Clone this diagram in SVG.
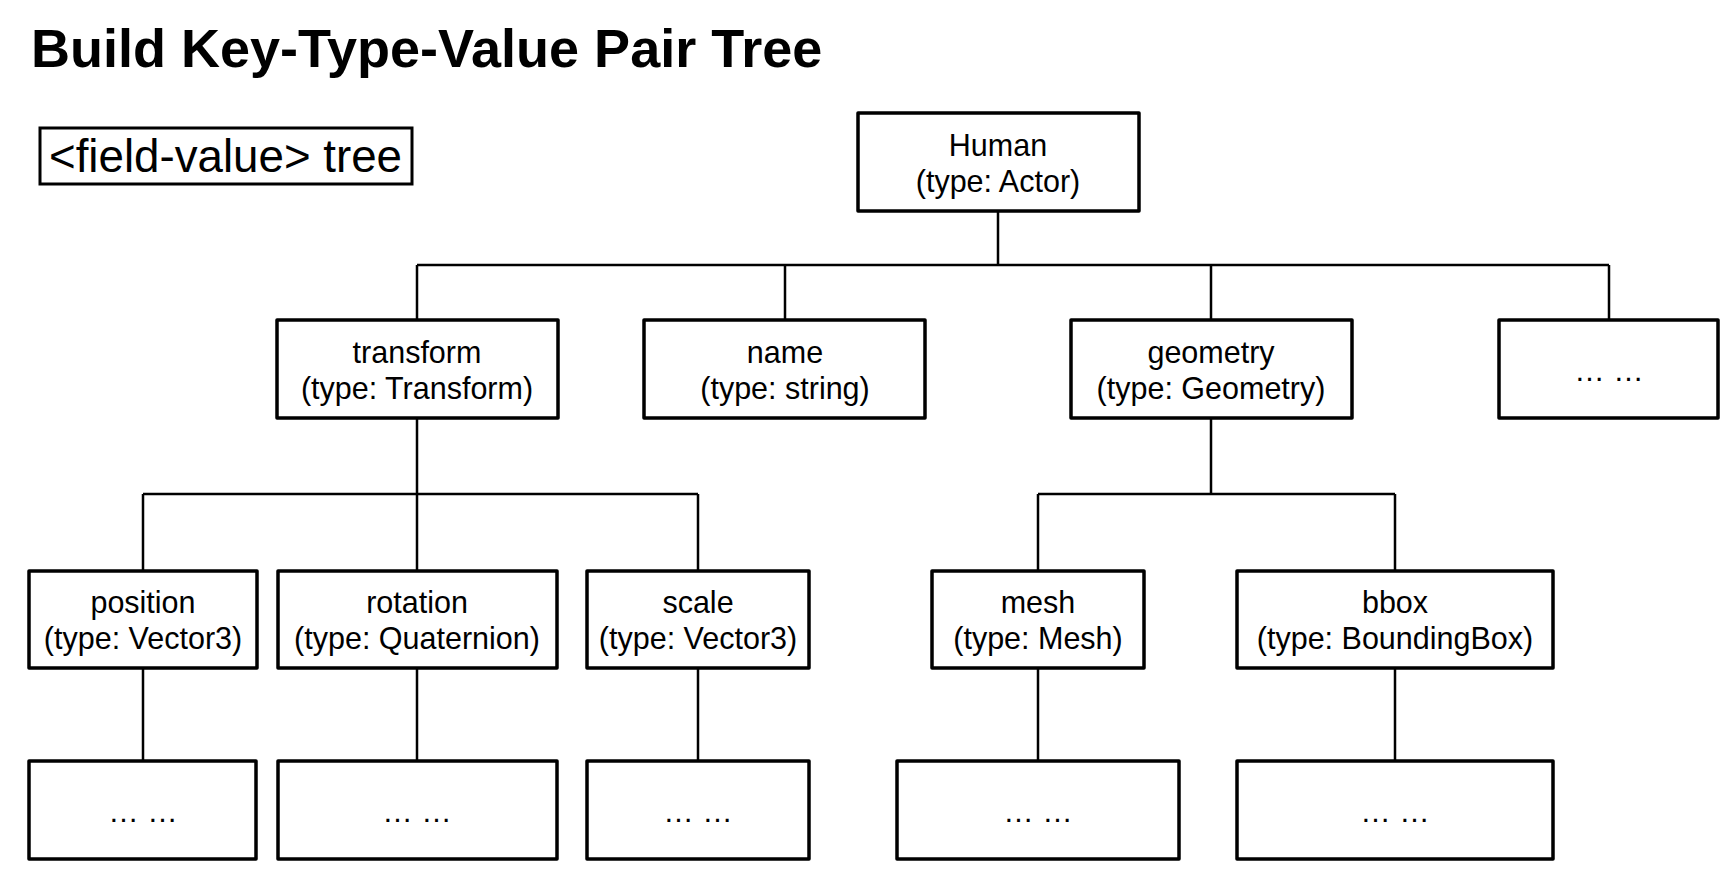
<svg xmlns="http://www.w3.org/2000/svg" width="1731" height="880" viewBox="0 0 1731 880">
<style>
.box{fill:#fff;stroke:#000;stroke-width:3.5;stroke-linejoin:round}
.lbl{font-family:"Liberation Sans",Arial,sans-serif;font-size:30.5px;fill:#000;text-anchor:middle}
.con{fill:none;stroke:#000;stroke-width:2.5}
</style>
<rect width="1731" height="880" fill="#fff"/>
<text x="31" y="67" font-family="'Liberation Sans',Arial,sans-serif" font-weight="bold" font-size="54" fill="#000">Build Key-Type-Value Pair Tree</text>
<g id="legend">
<rect x="40" y="128" width="372" height="56" fill="#fff" stroke="#000" stroke-width="3"/>
<text x="49" y="172" font-family="'Liberation Sans',Arial,sans-serif" font-size="46" fill="#000" textLength="353" lengthAdjust="spacingAndGlyphs">&lt;field-value&gt; tree</text>
</g>
<g id="connectors">
<path class="con" d="M998 211V265M417 265H1609M417 265V320M785 265V320M1211 265V320M1609 265V320"/>
<path class="con" d="M417 418V494M143 494H698M143 494V571M417 494V571M698 494V571"/>
<path class="con" d="M1211 418V494M1038 494H1395M1038 494V571M1395 494V571"/>
<path class="con" d="M143 668V761M417 668V761M698 668V761M1038 668V761M1395 668V761"/>
</g>
<g id="human"><rect class="box" x="858" y="113" width="281" height="98"/><text class="lbl" x="998" y="156">Human</text><text class="lbl" x="998" y="192">(type: Actor)</text></g>
<g id="transform"><rect class="box" x="277" y="320" width="281" height="98"/><text class="lbl" x="417" y="363">transform</text><text class="lbl" x="417" y="399">(type: Transform)</text></g>
<g id="name"><rect class="box" x="644" y="320" width="281" height="98"/><text class="lbl" x="785" y="363">name</text><text class="lbl" x="785" y="399">(type: string)</text></g>
<g id="geometry"><rect class="box" x="1071" y="320" width="281" height="98"/><text class="lbl" x="1211" y="363">geometry</text><text class="lbl" x="1211" y="399">(type: Geometry)</text></g>
<g id="more1"><rect class="box" x="1499" y="320" width="219" height="98"/><text class="lbl" x="1609" y="381">… …</text></g>
<g id="position"><rect class="box" x="29" y="571" width="228" height="97"/><text class="lbl" x="143" y="613">position</text><text class="lbl" x="143" y="649">(type: Vector3)</text></g>
<g id="rotation"><rect class="box" x="278" y="571" width="279" height="97"/><text class="lbl" x="417" y="613">rotation</text><text class="lbl" x="417" y="649">(type: Quaternion)</text></g>
<g id="scale"><rect class="box" x="587" y="571" width="222" height="97"/><text class="lbl" x="698" y="613">scale</text><text class="lbl" x="698" y="649">(type: Vector3)</text></g>
<g id="mesh"><rect class="box" x="932" y="571" width="212" height="97"/><text class="lbl" x="1038" y="613">mesh</text><text class="lbl" x="1038" y="649">(type: Mesh)</text></g>
<g id="bbox"><rect class="box" x="1237" y="571" width="316" height="97"/><text class="lbl" x="1395" y="613">bbox</text><text class="lbl" x="1395" y="649">(type: BoundingBox)</text></g>
<g id="pos-more"><rect class="box" x="29" y="761" width="227" height="98"/><text class="lbl" x="143" y="822">… …</text></g>
<g id="rot-more"><rect class="box" x="278" y="761" width="279" height="98"/><text class="lbl" x="417" y="822">… …</text></g>
<g id="scale-more"><rect class="box" x="587" y="761" width="222" height="98"/><text class="lbl" x="698" y="822">… …</text></g>
<g id="mesh-more"><rect class="box" x="897" y="761" width="282" height="98"/><text class="lbl" x="1038" y="822">… …</text></g>
<g id="bbox-more"><rect class="box" x="1237" y="761" width="316" height="98"/><text class="lbl" x="1395" y="822">… …</text></g>
</svg>
